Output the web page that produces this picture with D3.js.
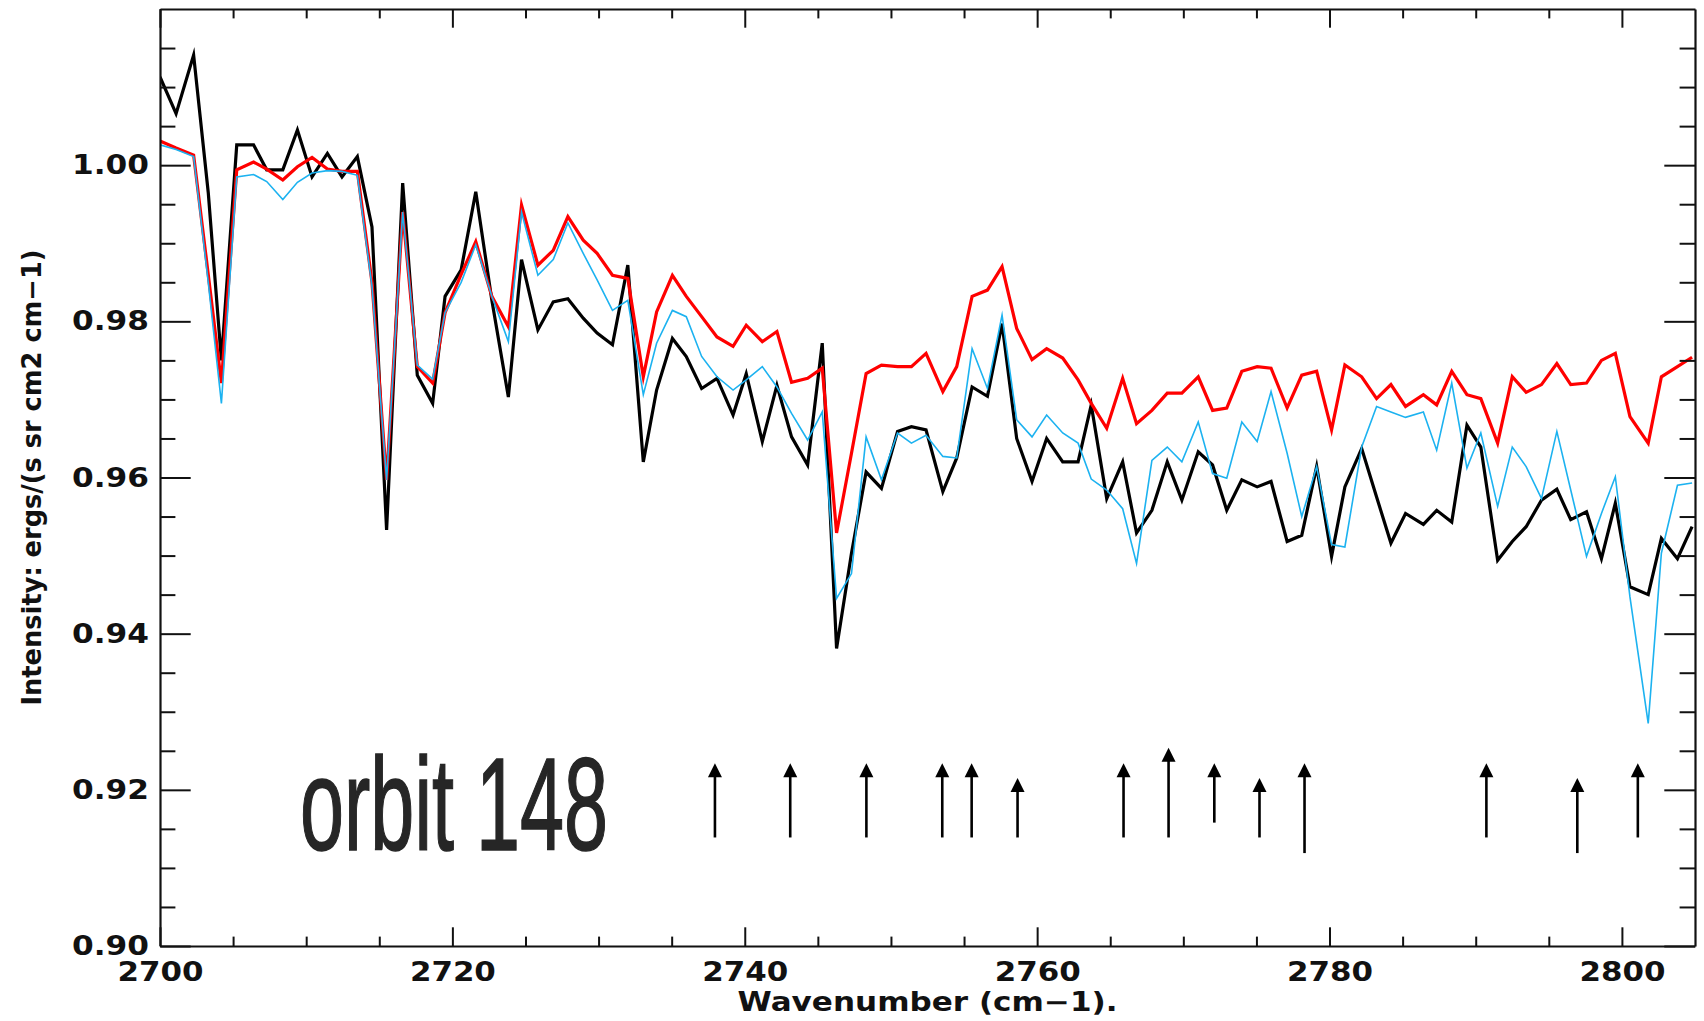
<!DOCTYPE html>
<html>
<head>
<meta charset="utf-8">
<script src="https://cdn.jsdelivr.net/npm/d3@7"></script>
<style>
  body { margin: 0; background: #fff; }
  svg { display: block; }
</style>
</head>
<body>
<script>
// wavenumber grid (cm-1)
const wavenumber = [
  2700.0, 2701.1, 2702.3, 2703.3, 2704.2, 2705.25, 2706.4, 2707.3, 2708.4, 2709.4,
  2710.4, 2711.45, 2712.45, 2713.5, 2714.5, 2715.5, 2716.6, 2717.6, 2718.65, 2719.5,
  2720.6, 2721.6, 2722.7, 2723.83, 2724.73, 2725.85, 2726.9, 2727.9, 2728.95, 2729.9,
  2730.95, 2732.0, 2733.06, 2733.97, 2735.05, 2736.0, 2737.05, 2738.1, 2739.2, 2740.1,
  2741.2, 2742.2, 2743.2, 2744.3, 2745.3, 2746.28, 2747.3, 2748.3, 2749.35, 2750.45,
  2751.4, 2752.4, 2753.55, 2754.5, 2755.55, 2756.6, 2757.6, 2758.6, 2759.65, 2760.65,
  2761.75, 2762.8, 2763.7, 2764.76, 2765.85, 2766.8, 2767.85, 2768.9, 2769.9, 2771.02,
  2772.0, 2772.97, 2774.0, 2775.05, 2776.0, 2777.1, 2778.1, 2779.12, 2780.14, 2781.05,
  2782.2, 2783.22, 2784.2, 2785.2, 2786.42, 2787.33, 2788.36, 2789.4, 2790.35, 2791.5,
  2792.5, 2793.45, 2794.5, 2795.55, 2796.5, 2797.58, 2798.6, 2799.55, 2800.55, 2801.8,
  2802.7, 2803.8, 2804.8
];

// black (observed)
const blackValues = [
  1.0113, 1.0066, 1.0141, 0.9965, 0.9750, 1.0026, 1.0026, 0.9994, 0.9994, 1.0045,
  0.9985, 1.0015, 0.9985, 1.0011, 0.9921, 0.9533, 0.9977, 0.9731, 0.9695, 0.9832,
  0.9866, 0.9966, 0.9827, 0.9703, 0.9879, 0.9789, 0.9825, 0.9829, 0.9804, 0.9785,
  0.9770, 0.9872, 0.9620, 0.9712, 0.9778, 0.9755, 0.9714, 0.9727, 0.9680, 0.9733,
  0.9646, 0.9718, 0.9652, 0.9616, 0.9772, 0.9381, 0.9503, 0.9607, 0.9586, 0.9659,
  0.9665, 0.9661, 0.9582, 0.9625, 0.9716, 0.9704, 0.9797, 0.9650, 0.9595, 0.9650,
  0.9620, 0.9620, 0.9693, 0.9573, 0.9620, 0.9529, 0.9558, 0.9620, 0.9571, 0.9633,
  0.9616, 0.9558, 0.9597, 0.9588, 0.9595, 0.9518, 0.9526, 0.9614, 0.9499, 0.9588,
  0.9637, 0.9575, 0.9516, 0.9554, 0.9540, 0.9558, 0.9543, 0.9667, 0.9639, 0.9494,
  0.9518, 0.9537, 0.9571, 0.9585, 0.9546, 0.9556, 0.9496, 0.9567, 0.9460, 0.9450,
  0.9522, 0.9496, 0.9537
];

// red (thick)
const redValues = [
  1.0031, 1.0022, 1.0013, 0.9860, 0.9721, 0.9994, 1.0004, 0.9995, 0.9981, 0.9998,
  1.0010, 0.9995, 0.9992, 0.9992, 0.9850, 0.9597, 0.9940, 0.9742, 0.9721, 0.9811,
  0.9860, 0.9902, 0.9832, 0.9793, 0.9949, 0.9872, 0.9891, 0.9934, 0.9904, 0.9887,
  0.9859, 0.9855, 0.9729, 0.9812, 0.9859, 0.9832, 0.9806, 0.9780, 0.9768, 0.9795,
  0.9774, 0.9787, 0.9722, 0.9727, 0.9740, 0.9529, 0.9631, 0.9733, 0.9744, 0.9742,
  0.9742, 0.9759, 0.9710, 0.9742, 0.9832, 0.9840, 0.9870, 0.9791, 0.9751, 0.9765,
  0.9753, 0.9725, 0.9695, 0.9663, 0.9727, 0.9669, 0.9686, 0.9708, 0.9708, 0.9729,
  0.9686, 0.9689, 0.9736, 0.9742, 0.9740, 0.9689, 0.9731, 0.9736, 0.9661, 0.9744,
  0.9729, 0.9701, 0.9719, 0.9691, 0.9706, 0.9693, 0.9736, 0.9706, 0.9701, 0.9644,
  0.9729, 0.9709, 0.9719, 0.9746, 0.9719, 0.9721, 0.9750, 0.9759, 0.9678, 0.9644,
  0.9729, 0.9742, 0.9754
];

// cyan (thin)
const cyanValues = [
  1.0026, 1.0020, 1.0011, 0.9850, 0.9695, 0.9985, 0.9988, 0.9979, 0.9956, 0.9978,
  0.9990, 0.9993, 0.9992, 0.9987, 0.9845, 0.9597, 0.9940, 0.9744, 0.9726, 0.9811,
  0.9850, 0.9898, 0.9832, 0.9774, 0.9940, 0.9859, 0.9879, 0.9926, 0.9887, 0.9853,
  0.9814, 0.9827, 0.9706, 0.9772, 0.9814, 0.9806, 0.9755, 0.9729, 0.9712, 0.9725,
  0.9742, 0.9716, 0.9682, 0.9648, 0.9684, 0.9445, 0.9477, 0.9652, 0.9597, 0.9657,
  0.9644, 0.9654, 0.9627, 0.9625, 0.9765, 0.9714, 0.9808, 0.9674, 0.9652, 0.9680,
  0.9657, 0.9644, 0.9598, 0.9584, 0.9560, 0.9490, 0.9622, 0.9639, 0.9620, 0.9671,
  0.9605, 0.9599, 0.9671, 0.9646, 0.9710, 0.9631, 0.9550, 0.9614, 0.9514, 0.9511,
  0.9639, 0.9691, 0.9684, 0.9677, 0.9684, 0.9635, 0.9721, 0.9612, 0.9657, 0.9563,
  0.9639, 0.9614, 0.9573, 0.9659, 0.9584, 0.9499, 0.9554, 0.9601, 0.9447, 0.9285,
  0.9503, 0.9590, 0.9593
];

// marked lines (arrows)
const arrowWave = [2737.96, 2743.11, 2748.32, 2753.51, 2755.52, 2758.66, 2765.91,
  2768.99, 2772.12, 2775.21, 2778.29, 2790.73, 2796.95, 2801.09];
const arrowTop = [0.9234, 0.9234, 0.9234, 0.9234, 0.9234, 0.9215, 0.9234,
  0.9254, 0.9234, 0.9215, 0.9234, 0.9234, 0.9215, 0.9234];
const arrowBottom = [0.9139, 0.9139, 0.9139, 0.9139, 0.9139, 0.9139, 0.9139,
  0.9139, 0.9158, 0.9139, 0.9119, 0.9139, 0.9119, 0.9139];

const xDomain = [2700, 2805];
const yDomain = [0.90, 1.02];
const xMajor = [2700, 2720, 2740, 2760, 2780, 2800];
const xMinor = [2705, 2710, 2715, 2725, 2730, 2735, 2745, 2750, 2755,
  2765, 2770, 2775, 2785, 2790, 2795];
const yMajor = [0.90, 0.92, 0.94, 0.96, 0.98, 1.00];
const yMinor = [0.905, 0.91, 0.915, 0.925, 0.93, 0.935, 0.945, 0.95, 0.955,
  0.965, 0.97, 0.975, 0.985, 0.99, 0.995, 1.005, 1.01, 1.015];

const xTitle = "Wavenumber (cm\u22121).";
const yTitle = "Intensity: ergs/(s sr cm2 cm\u22121)";
const stampText = "orbit 148";

const W = 1704, H = 1021;
const plot = { left: 160, right: 1695, top: 9, bottom: 946 };
const ink = "#111";

const svg = d3.select("body").append("svg")
  .attr("width", W)
  .attr("height", H);

const x = d3.scaleLinear().domain(xDomain).range([plot.left, plot.right]);
const y = d3.scaleLinear().domain(yDomain).range([plot.bottom, plot.top]);

const app = {

  init: () => {
    app.drawLines();
    app.drawArrows();
    app.drawStamp();
    app.drawAxes();
    app.drawTitles();
  },

  drawLines: () => {
    svg.append("clipPath").attr("id", "clip")
      .append("rect")
      .attr("x", plot.left).attr("y", plot.top)
      .attr("width", plot.right - plot.left)
      .attr("height", plot.bottom - plot.top);

    const series = [
      { values: blackValues, color: "#000000", width: 3.2 },
      { values: redValues, color: "#ff0000", width: 3.2 },
      { values: cyanValues, color: "#1cb2f0", width: 1.6 }
    ];
    const idx = d3.range(wavenumber.length);

    svg.append("g").attr("clip-path", "url(#clip)")
      .selectAll("path")
      .data(series)
      .enter()
      .append("path")
      .attr("fill", "none")
      .attr("stroke", d => d.color)
      .attr("stroke-width", d => d.width)
      .attr("stroke-linejoin", "miter")
      .attr("stroke-miterlimit", 6)
      .attr("d", d => d3.line()
        .x(i => x(wavenumber[i]))
        .y(i => y(d.values[i]))(idx));
  },

  drawArrows: () => {
    const headH = 14, headW = 7;
    const g = svg.append("g");
    const arrows = g.selectAll("g.arrow")
      .data(arrowWave.map((w, i) => ({ w: w, top: arrowTop[i], bottom: arrowBottom[i] })))
      .enter()
      .append("g").attr("class", "arrow");

    arrows.append("line")
      .attr("x1", d => x(d.w)).attr("x2", d => x(d.w))
      .attr("y1", d => y(d.bottom))
      .attr("y2", d => y(d.top) + headH - 1)
      .attr("stroke", "#000")
      .attr("stroke-width", 2.6);

    arrows.append("path")
      .attr("fill", "#000")
      .attr("d", d => {
        const px = x(d.w), py = y(d.top);
        return `M${px},${py}L${px - headW},${py + headH}L${px + headW},${py + headH}Z`;
      });
  },

  drawStamp: () => {
    svg.append("text")
      .attr("x", 300)
      .attr("y", 850)
      .attr("font-family", "'Liberation Sans', Arial, sans-serif")
      .attr("font-size", 132)
      .attr("fill", "#262626")
      .attr("stroke", "#262626")
      .attr("stroke-width", 1.5)
      .attr("textLength", 308)
      .attr("lengthAdjust", "spacingAndGlyphs")
      .text(stampText);
  },

  drawAxes: () => {
    const styleAxis = (g) => {
      g.select(".domain").attr("stroke", ink).attr("stroke-width", 2.2);
      g.selectAll(".tick line").attr("stroke", ink).attr("stroke-width", 2);
      g.selectAll(".tick text")
        .attr("fill", ink)
        .attr("font-family", "'DejaVu Sans', sans-serif")
        .attr("font-weight", "bold")
        .attr("font-size", 27);
    };

    // bottom
    const gB = svg.append("g").attr("transform", `translate(0,${plot.bottom})`)
      .call(d3.axisBottom(x).tickValues(xMajor).tickFormat(d3.format("d"))
        .tickSizeInner(-18.7).tickSizeOuter(0).tickPadding(16));
    styleAxis(gB);
    gB.selectAll(".tick text").attr("textLength", 86).attr("lengthAdjust", "spacingAndGlyphs");
    const gBm = svg.append("g").attr("transform", `translate(0,${plot.bottom})`)
      .call(d3.axisBottom(x).tickValues(xMinor).tickFormat(() => "")
        .tickSizeInner(-9.4).tickSizeOuter(0));
    gBm.select(".domain").remove();
    styleAxis(gBm);

    // top
    const gT = svg.append("g").attr("transform", `translate(0,${plot.top})`)
      .call(d3.axisTop(x).tickValues(xMajor).tickFormat(() => "")
        .tickSizeInner(-18.7).tickSizeOuter(0));
    styleAxis(gT);
    const gTm = svg.append("g").attr("transform", `translate(0,${plot.top})`)
      .call(d3.axisTop(x).tickValues(xMinor).tickFormat(() => "")
        .tickSizeInner(-9.4).tickSizeOuter(0));
    gTm.select(".domain").remove();
    styleAxis(gTm);

    // left
    const gL = svg.append("g").attr("transform", `translate(${plot.left},0)`)
      .call(d3.axisLeft(y).tickValues(yMajor).tickFormat(d3.format(".2f"))
        .tickSizeInner(-30.7).tickSizeOuter(0).tickPadding(11));
    styleAxis(gL);
    gL.selectAll(".tick text").attr("textLength", 77).attr("lengthAdjust", "spacingAndGlyphs");
    const gLm = svg.append("g").attr("transform", `translate(${plot.left},0)`)
      .call(d3.axisLeft(y).tickValues(yMinor).tickFormat(() => "")
        .tickSizeInner(-15.4).tickSizeOuter(0));
    gLm.select(".domain").remove();
    styleAxis(gLm);

    // right
    const gR = svg.append("g").attr("transform", `translate(${plot.right},0)`)
      .call(d3.axisRight(y).tickValues(yMajor).tickFormat(() => "")
        .tickSizeInner(-30.7).tickSizeOuter(0));
    styleAxis(gR);
    const gRm = svg.append("g").attr("transform", `translate(${plot.right},0)`)
      .call(d3.axisRight(y).tickValues(yMinor).tickFormat(() => "")
        .tickSizeInner(-15.4).tickSizeOuter(0));
    gRm.select(".domain").remove();
    styleAxis(gRm);
  },

  drawTitles: () => {
    svg.append("text")
      .attr("x", (plot.left + plot.right) / 2)
      .attr("y", 1011)
      .attr("text-anchor", "middle")
      .attr("font-family", "'DejaVu Sans', sans-serif")
      .attr("font-weight", "bold")
      .attr("font-size", 26)
      .attr("fill", ink)
      .attr("textLength", 380)
      .attr("lengthAdjust", "spacingAndGlyphs")
      .text(xTitle);

    svg.append("text")
      .attr("transform", `translate(41,${(plot.top + plot.bottom) / 2}) rotate(-90)`)
      .attr("text-anchor", "middle")
      .attr("font-family", "'DejaVu Sans', sans-serif")
      .attr("font-weight", "bold")
      .attr("font-size", 26)
      .attr("fill", ink)
      .attr("textLength", 456)
      .attr("lengthAdjust", "spacingAndGlyphs")
      .text(yTitle);
  }

}

app.init();
</script>
</body>
</html>
